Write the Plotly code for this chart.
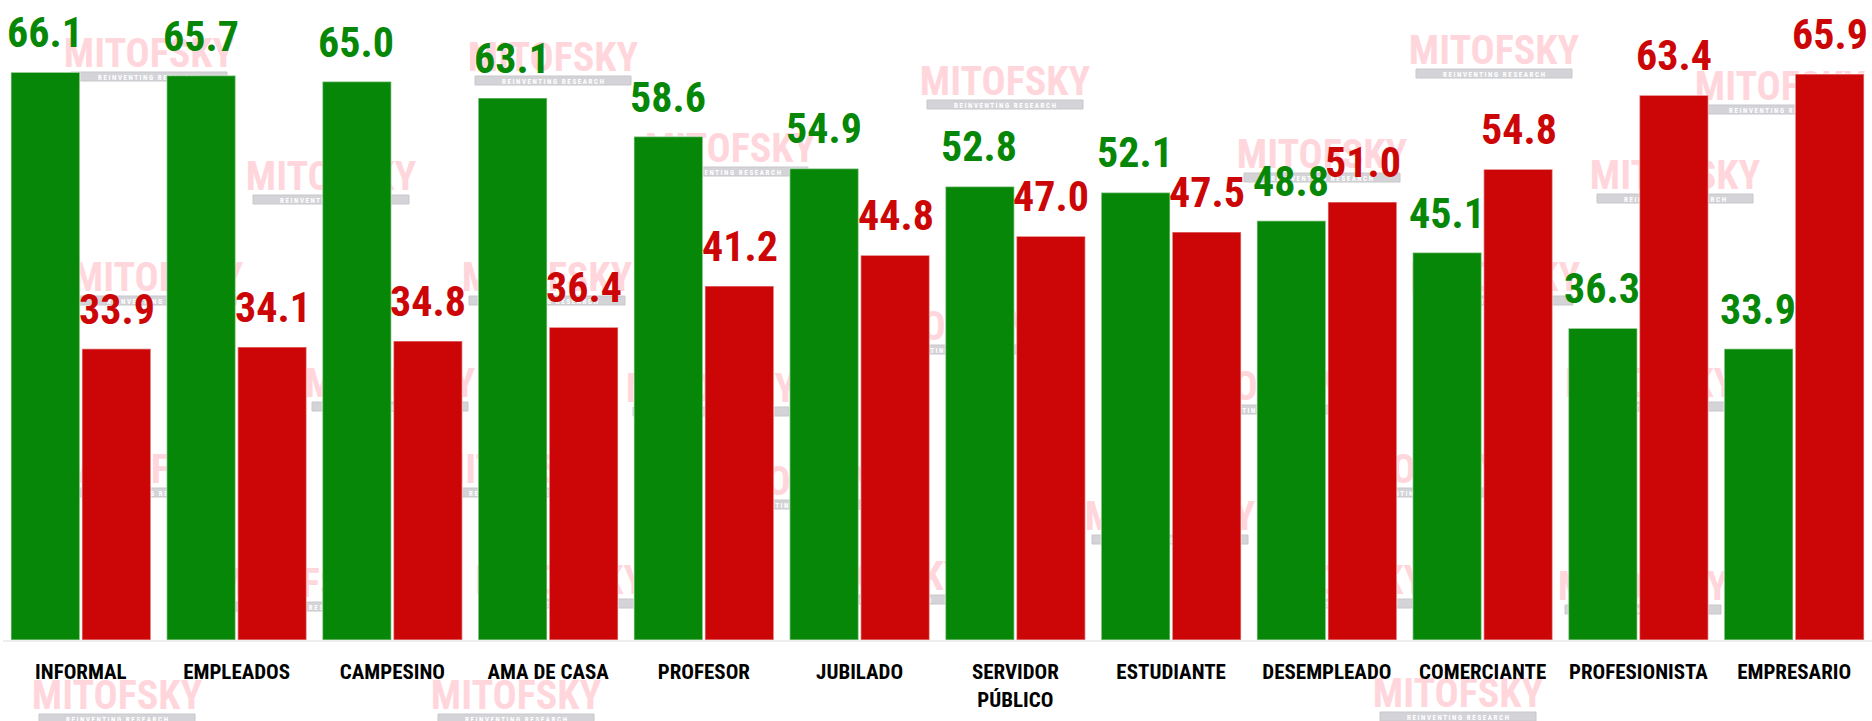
import plotly.graph_objects as go

# data
categories = ["INFORMAL", "EMPLEADOS", "CAMPESINO", "AMA DE CASA", "PROFESOR", "JUBILADO",
              "SERVIDOR<br>PÚBLICO", "ESTUDIANTE", "DESEMPLEADO", "COMERCIANTE",
              "PROFESIONISTA", "EMPRESARIO"]
verde = [66.1, 65.7, 65.0, 63.1, 58.6, 54.9, 52.8, 52.1, 48.8, 45.1, 36.3, 33.9]
rojo = [33.9, 34.1, 34.8, 36.4, 41.2, 44.8, 47.0, 47.5, 51.0, 54.8, 63.4, 65.9]

GREEN = "#078707"
RED = "#cc0606"
FONT = "Roboto Condensed, Liberation Sans Narrow, Liberation Sans, sans-serif"

W, H = 1872, 721
ML, MR, MT, MB = 3, 0, 0, 81

fig = go.Figure()
fig.add_trace(go.Bar(x=categories, y=verde, marker_color=GREEN,
                     marker_line=dict(color="rgba(255,255,255,0.45)", width=1.5)))
fig.add_trace(go.Bar(x=categories, y=rojo, marker_color=RED,
                     marker_line=dict(color="rgba(255,255,255,0.45)", width=1.5)))

# value labels above the bars
for cat, v, r in zip(categories, verde, rojo):
    for val, col, dx in ((v, GREEN, -36), (r, RED, 36)):
        fig.add_annotation(x=cat, y=val, text=f"{val:.1f}", showarrow=False,
                           xref="x", yref="y", xshift=dx, yshift=13, yanchor="bottom",
                           font=dict(family=FONT, size=42, color=col, weight=700))

# watermark (behind the bars), pixel centres of the "MITOFSKY" text
marks = [(149, 50), (553, 54), (1005, 78), (1494, 47), (1780, 83),
         (331, 173), (730, 145), (1322, 151), (1675, 172),
         (158, 274), (547, 274), (1495, 274), (945, 323),
         (390, 380), (711, 385), (1257, 383), (1650, 380),
         (150, 466), (520, 466), (790, 478), (1415, 466), (1170, 513),
         (300, 580), (560, 577), (880, 573), (1340, 577), (1643, 583),
         (117, 692), (516, 692), (1458, 690)]
pw, ph = W - ML - MR, H - MT - MB


def px(x):
    return (x - ML) / pw


def py(y):
    return 1 - (y - MT) / ph


for cx, cy in marks:
    fig.add_shape(type="rect", xref="paper", yref="paper", layer="below",
                  x0=px(cx - 80), x1=px(cx + 80), y0=py(cy + 18), y1=py(cy - 18),
                  line_width=0, fillcolor="rgba(0,0,0,0)",
                  label=dict(text="MITOFSKY", font=dict(family=FONT, size=40, color="#ffd6dc", weight=700)))
    fig.add_shape(type="rect", xref="paper", yref="paper", layer="below",
                  x0=px(cx - 78), x1=px(cx + 78), y0=py(cy + 31), y1=py(cy + 22),
                  line=dict(color="#c8c8cc", width=1), fillcolor="#d4d4d8",
                  label=dict(text="R E I N V E N T I N G   R E S E A R C H",
                             font=dict(family=FONT, size=7, color="white", weight=700)))

fig.update_layout(
    width=W, height=H,
    margin=dict(l=ML, r=MR, t=MT, b=MB, pad=0),
    barmode="group", bargap=0.088, bargroupgap=0.03,
    plot_bgcolor="rgba(0,0,0,0)", paper_bgcolor="white",
    showlegend=False,
)
fig.update_xaxes(showgrid=False, showline=True, linecolor="#eeeeee", linewidth=2,
                 ticks="outside", ticklen=12, tickcolor="rgba(0,0,0,0)", tickangle=0,
                 tickfont=dict(family=FONT, size=21, color="black", weight=700))
fig.update_yaxes(range=[0, 74.5], visible=False)

# drop the default body margin so the figure fills the window
fig.write_html("out.html", config={"displayModeBar": False},
               post_script="document.body.style.margin='0';")
